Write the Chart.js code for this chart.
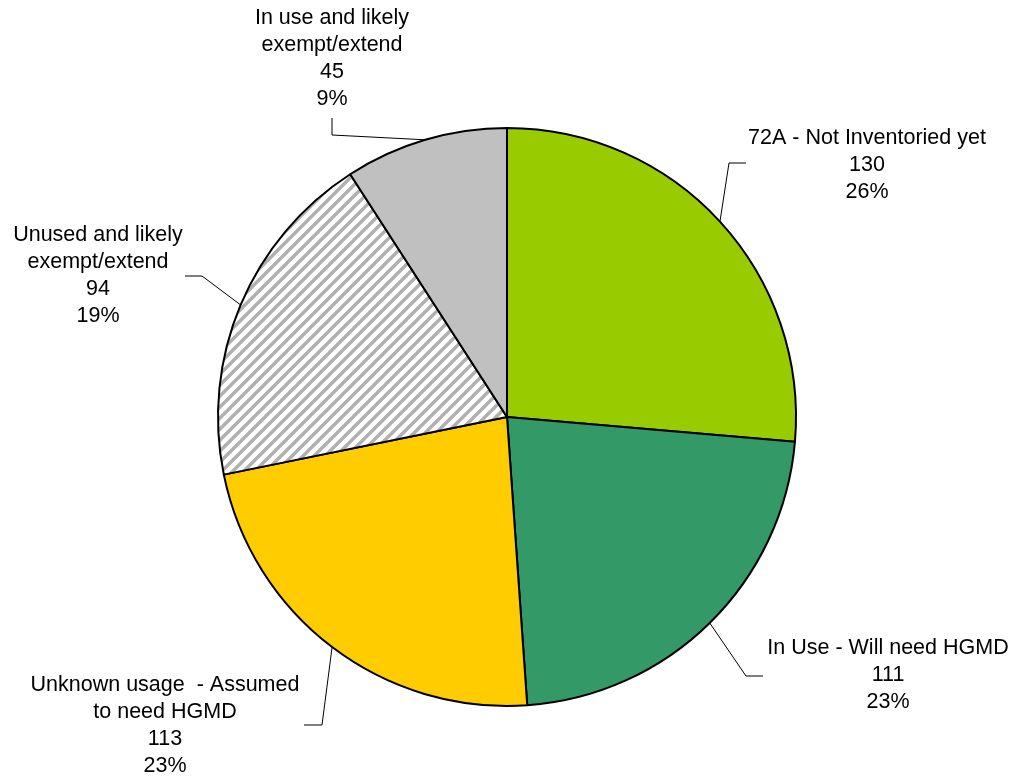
<!DOCTYPE html>
<html>
<head>
<meta charset="utf-8">
<script src="https://cdn.jsdelivr.net/npm/chart.js@4.4.1/dist/chart.umd.min.js"></script>
<style>
  html, body { margin: 0; padding: 0; background: #fff; }
  #wrap { width: 1013px; height: 778px; position: relative; }
</style>
</head>
<body>
<div id="wrap"><canvas id="pieChart"></canvas></div>
<script>
// data
const categories = [
    '72A - Not Inventoried yet',
    'In Use - Will need HGMD',
    'Unknown usage  - Assumed\nto need HGMD',
    'Unused and likely\nexempt/extend',
    'In use and likely\nexempt/extend'
];
const counts = [130, 111, 113, 94, 45];
const sliceColors = ['#99CC00', '#339966', '#FFCC00', 'hatch', '#C0C0C0'];

// label layout: text centre x, first line y, leader end point, elbow point
const labelLayout = [
    { x: 867, y: 138, end: [746, 163], elbow: [729, 163] },
    { x: 888, y: 648, end: [763, 676], elbow: [746, 676] },
    { x: 165, y: 685, end: [304, 725], elbow: [322, 725] },
    { x: 98,  y: 235, end: [185, 276], elbow: [202, 276] },
    { x: 332, y: 18,  end: [332, 118], elbow: [332, 135] }
];

function makeHatch() {
    const n = 11;
    const c = document.createElement('canvas');
    c.width = n; c.height = n;
    const g = c.getContext('2d');
    g.fillStyle = '#ffffff';
    g.fillRect(0, 0, n, n);
    g.strokeStyle = '#b0b0b0';
    g.lineWidth = 3.4;
    g.beginPath();
    g.moveTo(-2, n + 2); g.lineTo(n + 2, -2);
    g.moveTo(-2, 2); g.lineTo(2, -2);
    g.moveTo(n - 2, n + 2); g.lineTo(n + 2, n - 2);
    g.stroke();
    return g.createPattern(c, 'repeat');
}

const total = counts.reduce((a, b) => a + b, 0);
const fills = sliceColors.map(c => c === 'hatch' ? makeHatch() : c);

const leaderLabels = {
    id: 'leaderLabels',
    afterDraw(chart) {
        const ctx = chart.ctx;
        const arcs = chart.getDatasetMeta(0).data;
        ctx.save();
        arcs.forEach((arc, i) => {
            const L = labelLayout[i];
            const mid = (arc.startAngle + arc.endAngle) / 2;
            const ex = arc.x + Math.cos(mid) * arc.outerRadius;
            const ey = arc.y + Math.sin(mid) * arc.outerRadius;
            ctx.strokeStyle = '#000';
            ctx.lineWidth = 1;
            ctx.beginPath();
            ctx.moveTo(L.end[0], L.end[1]);
            ctx.lineTo(L.elbow[0], L.elbow[1]);
            ctx.lineTo(ex, ey);
            ctx.stroke();

            const pct = Math.round(counts[i] / total * 100) + '%';
            const lines = categories[i].split('\n').concat([String(counts[i]), pct]);
            ctx.fillStyle = '#000';
            ctx.font = '21.5px "Liberation Sans", Arial, sans-serif';
            ctx.textAlign = 'center';
            ctx.textBaseline = 'middle';
            lines.forEach((t, k) => ctx.fillText(t, L.x, L.y + k * 27));
        });
        ctx.restore();
    }
};

new Chart(document.getElementById('pieChart').getContext('2d'), {
    type: 'pie',
    data: {
        labels: categories,
        datasets: [{
            data: counts,
            backgroundColor: fills,
            borderColor: '#000000',
            borderWidth: 2
        }]
    },
    options: {
        responsive: true,
        maintainAspectRatio: false,
        animation: false,
        layout: { padding: { top: 127, bottom: 71, left: 217, right: 216 } },
        plugins: {
            legend: { display: false },
            tooltip: { enabled: false }
        }
    },
    plugins: [leaderLabels]
});
</script>
</body>
</html>
